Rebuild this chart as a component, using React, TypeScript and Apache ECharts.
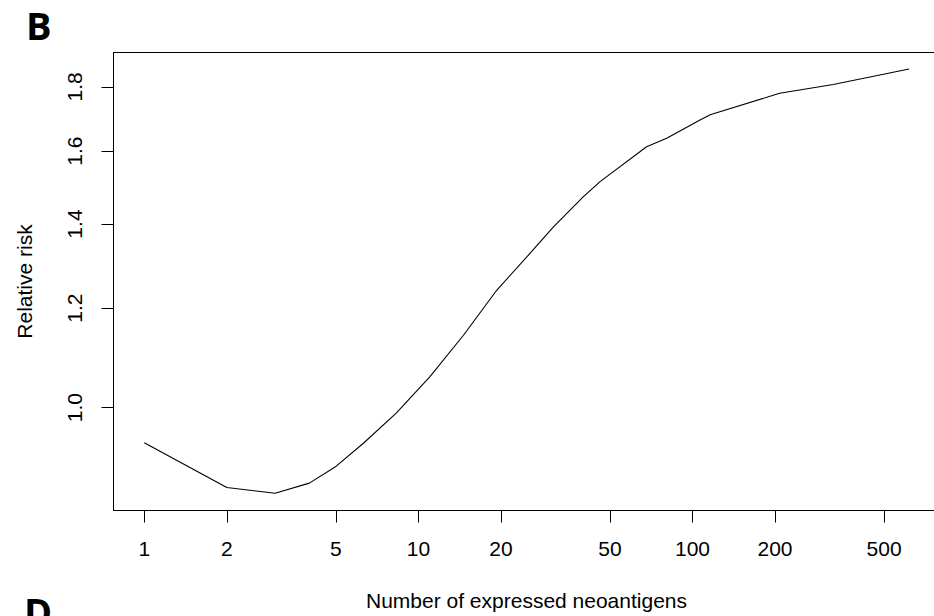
import React, { useEffect, useRef } from "react";
import * as echarts from "echarts";

// Number of expressed neoantigens (x) and relative risk (y)
const neoantigens = [1, 2, 3, 4, 5, 6.3, 8.3, 11, 14.6, 19.3, 26.2, 31.1, 40, 46, 68, 80.5, 106.5, 116, 208, 326, 617];
const relativeRisk = [0.938, 0.864, 0.855, 0.871, 0.898, 0.937, 0.99, 1.058, 1.142, 1.24, 1.335, 1.393, 1.472, 1.513, 1.613, 1.638, 1.694, 1.71, 1.779, 1.808, 1.86];

const xTicks = [1, 2, 5, 10, 20, 50, 100, 200, 500];
const yTicks = [1.0, 1.2, 1.4, 1.6, 1.8];

const panelLabel = "B";
const nextPanelLabel = "D";
const xTitle = "Number of expressed neoantigens";
const yTitle = "Relative risk";

const FONT = "'Liberation Sans', Arial, sans-serif";
const FS = 21;

export default function App() {
  const ref = useRef<HTMLDivElement>(null);
  useEffect(() => {
    if (!ref.current) return;
    const chart = echarts.init(ref.current, undefined, { renderer: "svg" });
    const lx = (v: number) => Math.log10(v);
    chart.setOption({
      animation: false,
      backgroundColor: "#fff",
      textStyle: { fontFamily: FONT },
      grid: {
        left: 113.5,
        top: 52.5,
        width: 826,
        height: 458,
        show: true,
        borderColor: "#000",
        borderWidth: 1,
        containLabel: false,
        outerBoundsMode: "none",
      },
      xAxis: {
        type: "value",
        min: -0.1124,
        max: 2.9011,
        name: xTitle,
        nameLocation: "middle",
        nameGap: 79,
        nameTextStyle: { fontSize: FS, color: "#000", fontFamily: FONT },
        axisLine: { show: true, onZero: false, lineStyle: { color: "#000", width: 1 } },
        splitLine: { show: false },
        axisTick: {
          show: true,
          length: 12,
          customValues: xTicks.map(lx),
          lineStyle: { color: "#000", width: 1 },
        },
        axisLabel: {
          show: true,
          margin: 27,
          fontSize: FS,
          color: "#000",
          fontFamily: FONT,
          customValues: xTicks.map(lx),
          formatter: (v: number) => String(Math.round(Math.pow(10, v))),
        },
      },
      yAxis: {
        type: "value",
        min: -0.08178,
        max: 0.2826,
        name: yTitle,
        nameLocation: "middle",
        nameGap: 79,
        nameRotate: 90,
        nameTextStyle: { fontSize: FS, color: "#000", fontFamily: FONT },
        axisLine: { show: true, onZero: false, lineStyle: { color: "#000", width: 1 } },
        splitLine: { show: false },
        axisTick: {
          show: true,
          length: 12,
          customValues: yTicks.map(lx),
          lineStyle: { color: "#000", width: 1 },
        },
        axisLabel: {
          show: true,
          rotate: 90,
          margin: 29,
          fontSize: FS,
          color: "#000",
          fontFamily: FONT,
          customValues: yTicks.map(lx),
          formatter: (v: number) => Math.pow(10, v).toFixed(1),
        },
      },
      series: [
        {
          type: "line",
          data: neoantigens.map((x, i) => [lx(x), lx(relativeRisk[i])]),
          showSymbol: false,
          symbol: "none",
          lineStyle: { color: "#000", width: 1.1 },
          clip: false,
        },
      ],
      graphic: [
        {
          type: "text",
          left: 26,
          top: 6,
          style: {
            text: panelLabel,
            font: "bold 38px 'Open Sans', 'Noto Sans', sans-serif",
            fill: "#000",
          },
        },
        {
          type: "text",
          left: 24,
          top: 592,
          style: {
            text: nextPanelLabel,
            font: "bold 38px 'Open Sans', 'Noto Sans', sans-serif",
            fill: "#000",
          },
        },
      ],
    });
    return () => chart.dispose();
  }, []);
  return (
    <div
      ref={ref}
      style={{ position: "absolute", left: 0, top: 0, width: 934, height: 616 }}
    />
  );
}
